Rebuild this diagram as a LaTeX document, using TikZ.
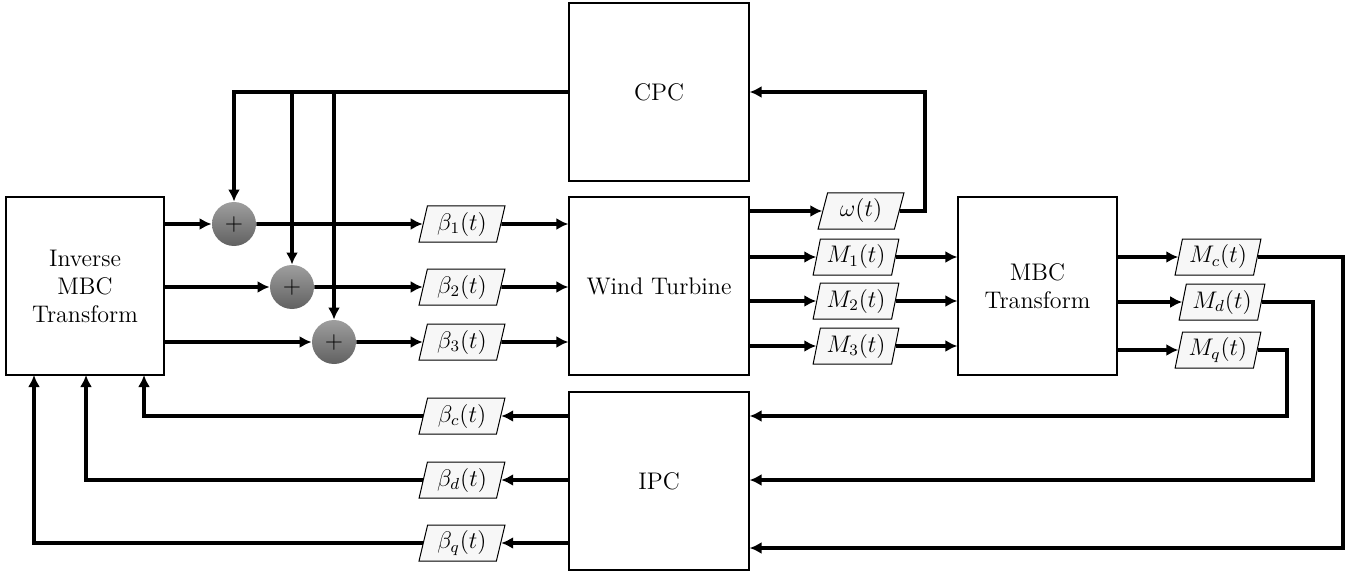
\documentclass[tikz,border=0pt]{standalone}
\usetikzlibrary{shapes.geometric,arrows.meta}
\begin{document}
\begin{tikzpicture}[x=0.5pt,y=-0.5pt,
  blk/.style={draw, line width=0.6pt, minimum width=90pt, minimum height=89pt, align=center, font=\large, inner sep=0pt},
  sig/.style={draw, line width=0.5pt, fill=black!3, trapezium, trapezium left angle=76, trapezium right angle=104, trapezium stretches=true, minimum width=43pt, minimum height=18pt, inner sep=0pt, font=\large},
  sum/.style={circle, minimum size=22pt, inner sep=0pt, top color=black!38, bottom color=black!62, font=\large},
  arr/.style={line width=1.9pt, -{Latex[length=6pt,width=6pt]}}]
\useasboundingbox (0,0) rectangle (1358,572);
% blocks
\node[blk, minimum width=79pt] (inv) at (85,286) {Inverse\\MBC\\Transform};
\node[blk] (cpc) at (659,92) {CPC};
\node[blk] (wt) at (659,286) {Wind Turbine};
\node[blk] (ipc) at (659,481) {IPC};
\node[blk, minimum width=79.5pt] (mbc) at (1037.5,286) {MBC\\Transform};
% summing junctions
\node[sum] (s1) at (234,224) {$+$};
\node[sum] (s2) at (292,287) {$+$};
\node[sum] (s3) at (334,342) {$+$};
% signals
\node[sig] (b1) at (462,224) {$\beta_1(t)$};
\node[sig] (b2) at (462,287) {$\beta_2(t)$};
\node[sig] (b3) at (462,342) {$\beta_3(t)$};
\node[sig] (bc) at (462,416) {$\beta_c(t)$};
\node[sig] (bd) at (462,480) {$\beta_d(t)$};
\node[sig] (bq) at (462,543) {$\beta_q(t)$};
\node[sig] (w) at (861,211) {$\omega(t)$};
\node[sig] (m1) at (856,257) {$M_1(t)$};
\node[sig] (m2) at (856,301) {$M_2(t)$};
\node[sig] (m3) at (856,346) {$M_3(t)$};
\node[sig] (mc) at (1218,257) {$M_c(t)$};
\node[sig] (md) at (1222,302) {$M_d(t)$};
\node[sig] (mq) at (1218,350) {$M_q(t)$};
% corner coordinates
\coordinate (cw) at (925,211);
\coordinate (rc) at (1343,548);
\coordinate (rd) at (1313,480);
\coordinate (rq) at (1287,416);
\coordinate (lc) at (144,375);
\coordinate (ld) at (86,375);
\coordinate (lq) at (34,375);
% CPC to junctions
\draw[arr] (cpc.west) -| (s1);
\draw[arr] (s2 |- cpc.west) -- (s2);
\draw[arr] (s3 |- cpc.west) -- (s3);
% inverse MBC to junctions
\draw[arr] (inv.east |- s1) -- (s1);
\draw[arr] (inv.east |- s2) -- (s2);
\draw[arr] (inv.east |- s3) -- (s3);
% junctions to betas to turbine
\draw[arr] (s1) -- (b1.west);
\draw[arr] (s2) -- (b2.west);
\draw[arr] (s3) -- (b3.west);
\draw[arr] (b1.east) -- (b1 -| wt.west);
\draw[arr] (b2.east) -- (b2 -| wt.west);
\draw[arr] (b3.east) -- (b3 -| wt.west);
% turbine outputs
\draw[arr] (wt.east |- w) -- (w.west);
\draw[arr] (w.east) -- (cw) |- (cpc.east);
\draw[arr] (wt.east |- m1) -- (m1.west);
\draw[arr] (wt.east |- m2) -- (m2.west);
\draw[arr] (wt.east |- m3) -- (m3.west);
\draw[arr] (m1.east) -- (m1 -| mbc.west);
\draw[arr] (m2.east) -- (m2 -| mbc.west);
\draw[arr] (m3.east) -- (m3 -| mbc.west);
% MBC outputs
\draw[arr] (mbc.east |- mc) -- (mc.west);
\draw[arr] (mbc.east |- md) -- (md.west);
\draw[arr] (mbc.east |- mq) -- (mq.west);
\draw[arr] (mc.east) -| (rc) -- (rc -| ipc.east);
\draw[arr] (md.east) -| (rd) -- (rd -| ipc.east);
\draw[arr] (mq.east) -| (rq) -- (rq -| ipc.east);
% IPC outputs
\draw[arr] (ipc.west |- bc) -- (bc.east);
\draw[arr] (ipc.west |- bd) -- (bd.east);
\draw[arr] (ipc.west |- bq) -- (bq.east);
\draw[arr] (bc.west) -| (lc);
\draw[arr] (bd.west) -| (ld);
\draw[arr] (bq.west) -| (lq);
\end{tikzpicture}
\end{document}
